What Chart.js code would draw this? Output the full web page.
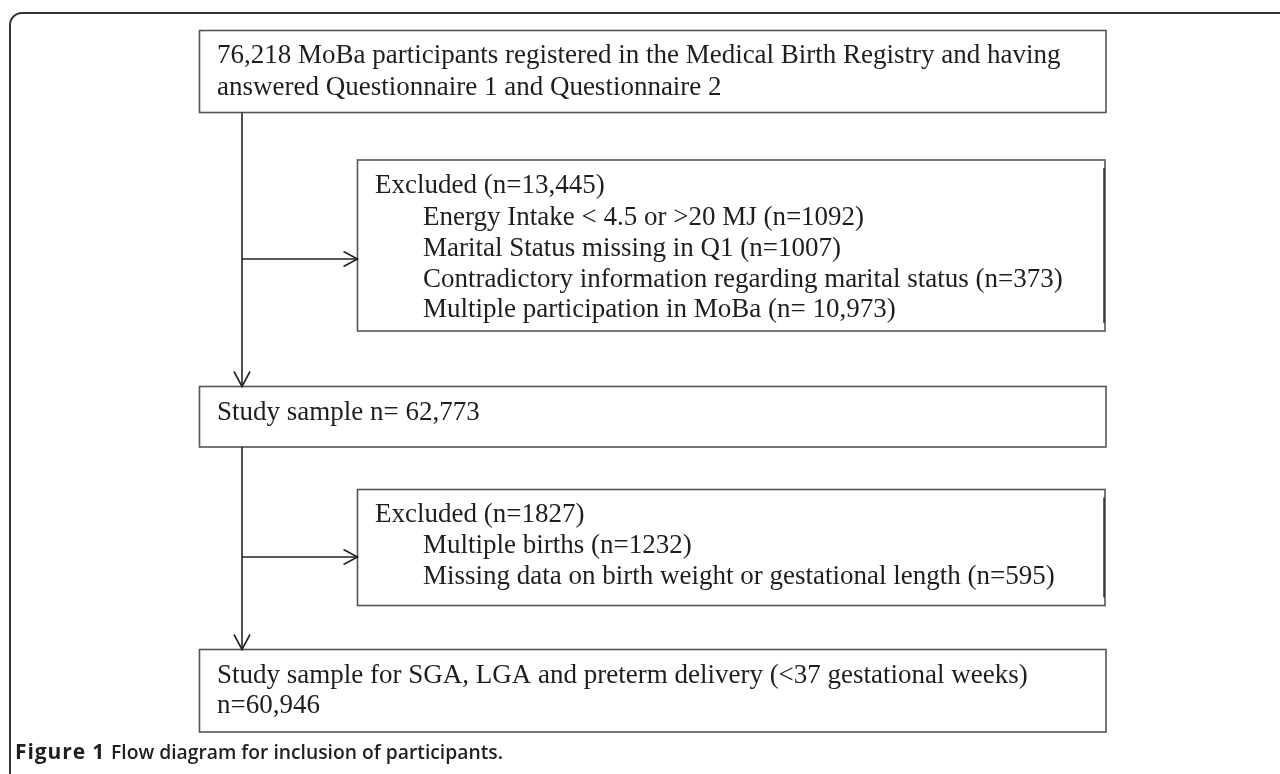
<!DOCTYPE html>
<html>
<head>
<meta charset="utf-8">
<script src="https://cdn.jsdelivr.net/npm/chart.js@4/dist/chart.umd.min.js"></script>
<style>
html,body{margin:0;padding:0;background:#fff;}
#c{display:block;}
</style>
</head>
<body>
<canvas id="c" width="1280" height="774"></canvas>
<script>
// ---- data ----
const stageTexts = [
  ["76,218 MoBa participants registered in the Medical Birth Registry and having",
   "answered Questionnaire 1 and Questionnaire 2"],
  ["Study sample n= 62,773"],
  ["Study sample for SGA, LGA and preterm delivery (<37 gestational weeks)",
   "n=60,946"]
];
const exclusionTitles = ["Excluded (n=13,445)", "Excluded (n=1827)"];
const exclusionReasons = [
  ["Energy Intake < 4.5 or >20 MJ (n=1092)",
   "Marital Status missing in Q1 (n=1007)",
   "Contradictory information regarding marital status (n=373)",
   "Multiple participation in MoBa (n= 10,973)"],
  ["Multiple births (n=1232)",
   "Missing data on birth weight or gestational length (n=595)"]
];
const captionBold = "Figure 1";
const captionText = "Flow diagram for inclusion of participants.";

// ---- layout (diagram units on the hidden linear scales) ----
const mainBoxes = [
  {x0:199.5, y0:30.5, x1:1106, y1:112.5, baselines:[63,95]},
  {x0:199.5, y0:386.5, x1:1106, y1:447, baselines:[420]},
  {x0:199.5, y0:649.5, x1:1106, y1:732, baselines:[683,713]}
];
const exclBoxes = [
  {x0:357.5, y0:160, x1:1105, y1:331, baselines:[193,225,256,287,317], arrowY:259},
  {x0:357.5, y0:489.5, x1:1105, y1:605.5, baselines:[522,553,584], arrowY:557}
];
const spineX = 242;

const flowPlugin = {
  id: 'flow',
  afterDraw(chart) {
    const ctx = chart.ctx;
    const sx = chart.scales.x, sy = chart.scales.y;
    const X = v => sx.getPixelForValue(v);
    const Y = v => sy.getPixelForValue(v);
    ctx.save();

    // outer frame with rounded top-left corner
    ctx.strokeStyle = '#333';
    ctx.lineWidth = 2;
    ctx.beginPath();
    ctx.moveTo(X(10), Y(780));
    ctx.lineTo(X(10), Y(25));
    ctx.arcTo(X(10), Y(13), X(22), Y(13), 12);
    ctx.lineTo(X(1290), Y(13));
    ctx.stroke();

    // boxes
    ctx.strokeStyle = '#555';
    ctx.lineWidth = 1.6;
    const rect = b => ctx.strokeRect(X(b.x0), Y(b.y0), X(b.x1) - X(b.x0), Y(b.y1) - Y(b.y0));
    mainBoxes.forEach(rect);
    exclBoxes.forEach(rect);
    // darker inner right edge on exclusion boxes
    ctx.strokeStyle = '#222';
    ctx.lineWidth = 1.4;
    exclBoxes.forEach(b => {
      ctx.beginPath();
      ctx.moveTo(X(b.x1 - 1), Y(b.y0 + 8));
      ctx.lineTo(X(b.x1 - 1), Y(b.y1 - 8));
      ctx.stroke();
    });

    // connectors
    ctx.strokeStyle = '#222';
    ctx.lineWidth = 1.6;
    const line = (xa, ya, xb, yb) => {
      ctx.beginPath(); ctx.moveTo(X(xa), Y(ya)); ctx.lineTo(X(xb), Y(yb)); ctx.stroke();
    };
    const headDown = (x, y) => {
      ctx.beginPath();
      ctx.moveTo(X(x - 8), Y(y - 15)); ctx.lineTo(X(x), Y(y)); ctx.lineTo(X(x + 8), Y(y - 15));
      ctx.stroke();
    };
    const headRight = (x, y) => {
      ctx.beginPath();
      ctx.moveTo(X(x - 14), Y(y - 7.5)); ctx.lineTo(X(x), Y(y)); ctx.lineTo(X(x - 14), Y(y + 7.5));
      ctx.stroke();
    };
    for (let i = 0; i < exclBoxes.length; i++) {
      const top = mainBoxes[i], next = mainBoxes[i + 1], ex = exclBoxes[i];
      line(spineX, top.y1, spineX, next.y0);
      headDown(spineX, next.y0);
      line(spineX, ex.arrowY, ex.x0, ex.arrowY);
      headRight(ex.x0, ex.arrowY);
    }

    // texts
    ctx.fillStyle = '#1e1e1e';
    ctx.font = '27px "Liberation Serif", "Times New Roman", serif';
    ctx.textBaseline = 'alphabetic';
    ctx.textAlign = 'left';
    mainBoxes.forEach((b, i) => {
      stageTexts[i].forEach((t, j) => ctx.fillText(t, X(217), Y(b.baselines[j])));
    });
    exclBoxes.forEach((b, i) => {
      ctx.fillText(exclusionTitles[i], X(375), Y(b.baselines[0]));
      exclusionReasons[i].forEach((t, j) => ctx.fillText(t, X(423), Y(b.baselines[j + 1])));
    });

    // caption
    ctx.fillStyle = '#231f20';
    ctx.font = 'bold 21px "Open Sans", sans-serif';
    if ('letterSpacing' in ctx) ctx.letterSpacing = '0.9px';
    ctx.fillText(captionBold, X(15), Y(759));
    if ('letterSpacing' in ctx) ctx.letterSpacing = '0px';
    ctx.font = '600 19.3px "Open Sans", sans-serif';
    ctx.fillText(captionText, X(111), Y(759));
    ctx.restore();
  }
};

new Chart(document.getElementById('c'), {
  type: 'scatter',
  data: { datasets: [{ data: [], pointRadius: 0 }] },
  options: {
    responsive: false,
    animation: false,
    layout: { padding: 0 },
    plugins: { legend: { display: false }, tooltip: { enabled: false } },
    scales: {
      x: { type: 'linear', min: 0, max: 1280, display: false },
      y: { type: 'linear', min: 0, max: 774, reverse: true, display: false }
    }
  },
  plugins: [flowPlugin]
});
</script>
</body>
</html>
